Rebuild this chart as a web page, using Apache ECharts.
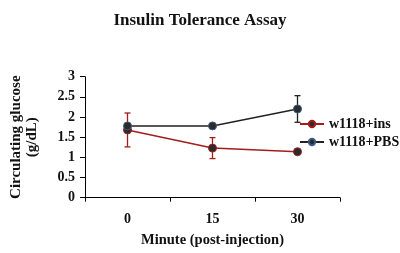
<!DOCTYPE html>
<html><head><meta charset="utf-8">
<script src="https://cdn.jsdelivr.net/npm/echarts@6/dist/echarts.min.js"></script>
<style>html,body{margin:0;padding:0;background:#fff}#c{width:400px;height:253px}</style>
</head><body><div id="c"></div>
<script>
const categories = ['0', '15', '30'];
const insMean = [1.68, 1.23, 1.14];
const insErr  = [0.42, 0.26, 0.03];
const pbsMean = [1.78, 1.78, 2.20];
const pbsErr  = [0.05, 0.03, 0.33];
const yTicks = [0, 0.5, 1, 1.5, 2, 2.5, 3];

const FONT = 'Liberation Serif';
const RED = '#A31D1D';
const BLK = '#222222';

function errSeries(mean, err, color, z) {
  return {
    type: 'custom', z: z, silent: true,
    data: mean.map((m, i) => [i, m - err[i], m + err[i]]),
    renderItem: function (params, api) {
      const lo = api.coord([api.value(0), api.value(1)]);
      const hi = api.coord([api.value(0), api.value(2)]);
      const w = 3;
      const st = { stroke: color, lineWidth: 1.3 };
      return { type: 'group', children: [
        { type: 'line', shape: { x1: lo[0], y1: lo[1], x2: hi[0], y2: hi[1] }, style: st },
        { type: 'line', shape: { x1: lo[0] - w, y1: lo[1], x2: lo[0] + w, y2: lo[1] }, style: st },
        { type: 'line', shape: { x1: hi[0] - w, y1: hi[1], x2: hi[0] + w, y2: hi[1] }, style: st }
      ]};
    }
  };
}

const chart = echarts.init(document.getElementById('c'), null, { renderer: 'canvas' });
chart.setOption({
  animation: false,
  backgroundColor: '#fff',
  title: {
    text: 'Insulin Tolerance Assay', left: 'center', top: 7,
    textStyle: { fontFamily: FONT, fontWeight: 'bold', fontSize: 17, color: '#111' }
  },
  legend: {
    orient: 'vertical', left: 294, top: 112, itemGap: 4,
    itemWidth: 24, itemHeight: 8,
    data: ['w1118+ins', 'w1118+PBS'],
    textStyle: { fontFamily: FONT, fontWeight: 'bold', fontSize: 14, color: '#111' }
  },
  grid: { left: 85, right: 60, top: 76.7, bottom: 55.3 },
  xAxis: {
    type: 'category', data: categories, boundaryGap: true,
    name: 'Minute (post-injection)', nameLocation: 'middle', nameGap: 35,
    nameTextStyle: { fontFamily: FONT, fontWeight: 'bold', fontSize: 14.5, color: '#111' },
    axisLine: { lineStyle: { color: '#000', width: 1 } },
    axisTick: { show: true, length: 4, inside: false, lineStyle: { color: '#000' } },
    axisLabel: { fontFamily: FONT, fontWeight: 'bold', fontSize: 14, color: '#111', margin: 15 }
  },
  yAxis: {
    type: 'value', min: 0, max: 3, interval: 0.5,
    name: 'Circulating glucose\n(g/dL)', nameLocation: 'middle', nameGap: 45, nameRotate: 90,
    nameTextStyle: { fontFamily: FONT, fontWeight: 'bold', fontSize: 15, color: '#111', lineHeight: 16 },
    axisLine: { show: true, lineStyle: { color: '#000', width: 1 } },
    axisTick: { show: true, length: 5, lineStyle: { color: '#000' } },
    splitLine: { show: false },
    axisLabel: { fontFamily: FONT, fontWeight: 'bold', fontSize: 14, color: '#111', margin: 10,
      formatter: v => yTicks.includes(v) ? String(v) : '' }
  },
  series: [
    errSeries(insMean, insErr, RED, 1),
    {
      name: 'w1118+ins', type: 'line', data: insMean, z: 2,
      symbol: 'circle', symbolSize: 8,
      lineStyle: { color: RED, width: 1.5 },
      itemStyle: { color: '#2b2b2b', borderColor: RED, borderWidth: 1 }
    },
    errSeries(pbsMean, pbsErr, BLK, 3),
    {
      name: 'w1118+PBS', type: 'line', data: pbsMean, z: 4,
      symbol: 'circle', symbolSize: 8,
      lineStyle: { color: BLK, width: 1.5 },
      itemStyle: { color: '#2b2b2b', borderColor: '#3b5a86', borderWidth: 1 }
    }
  ]
});
</script></body></html>
